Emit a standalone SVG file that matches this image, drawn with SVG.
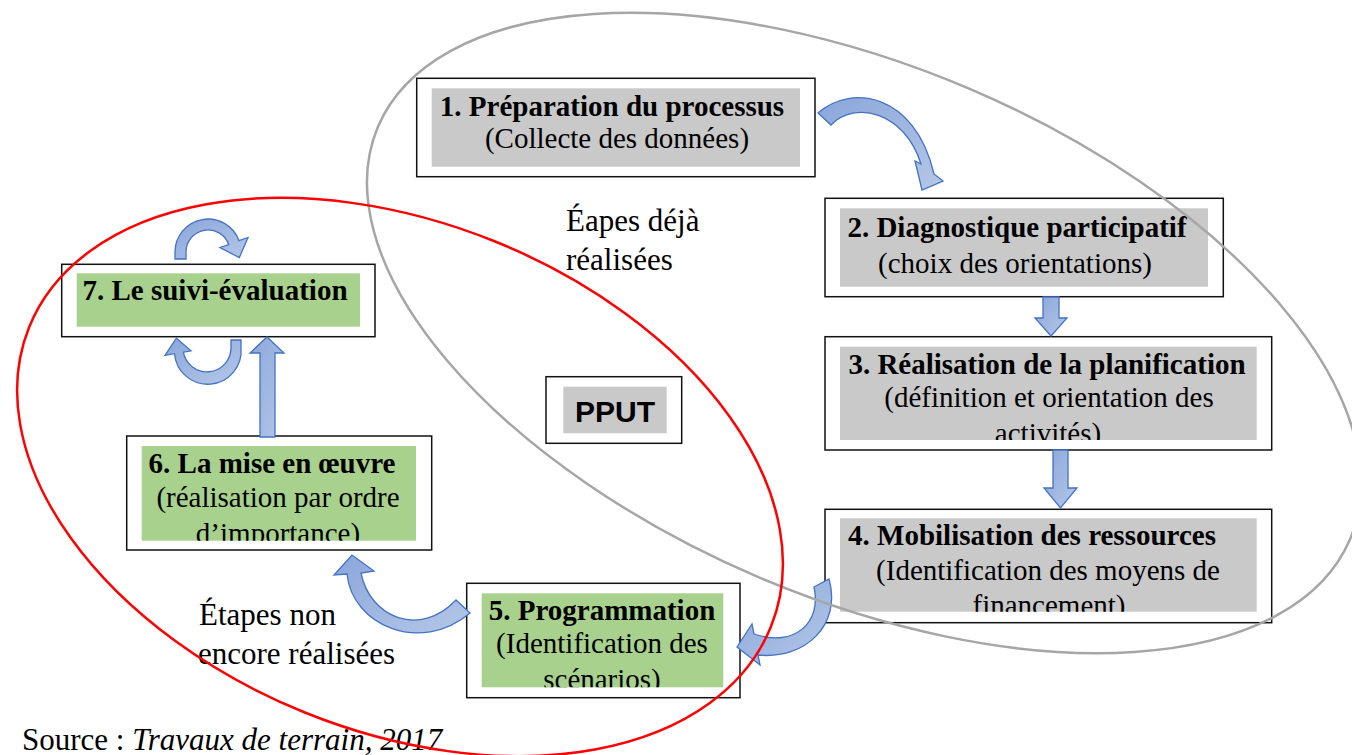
<svg xmlns="http://www.w3.org/2000/svg" width="1352" height="755" viewBox="0 0 1352 755">
<style>
.box{fill:#fff;stroke:#111;stroke-width:1.5}
.gray{fill:#C9C9C9}
.green{fill:#A9D18E}
.t{font-family:"Liberation Serif","Times New Roman",serif;font-size:29px;fill:#000;text-anchor:middle}
.b{font-weight:bold}
.lbl{font-family:"Liberation Serif","Times New Roman",serif;font-size:31px;fill:#000}
.arrow{fill:url(#ag);stroke:#4472C4;stroke-width:1.3;stroke-linejoin:miter}
.ell{fill:none;stroke-width:2.5}
</style>
<defs>
<linearGradient id="ag" x1="0" y1="0" x2="1" y2="1">
<stop offset="0" stop-color="#8AA6DA"/>
<stop offset="1" stop-color="#B4C7E7"/>
</linearGradient>
<clipPath id="c3"><rect x="840" y="346.7" width="416.7" height="93.3"/></clipPath>
<clipPath id="c4"><rect x="840" y="518.3" width="416.7" height="93.4"/></clipPath>
<clipPath id="c5"><rect x="481.7" y="593.3" width="241.6" height="94"/></clipPath>
<clipPath id="c6"><rect x="141.7" y="446" width="274.3" height="94.7"/></clipPath>
</defs>
<rect width="1352" height="755" fill="#fff"/>

<g id="node1">
<rect class="box" x="416.7" y="78.3" width="398.3" height="98.4"/>
<rect class="gray" x="431.7" y="88.3" width="368.3" height="78.4"/>
<text class="t b" x="612" y="116">1. Préparation du processus</text>
<text class="t" x="617" y="148">(Collecte des données)</text>
</g>
<g id="node2">
<rect class="box" x="825" y="198.3" width="398.3" height="98.4"/>
<rect class="gray" x="840" y="208.3" width="368" height="78.4"/>
<text class="t b" x="1017" y="237">2. Diagnostique participatif</text>
<text class="t" x="1015" y="273">(choix des orientations)</text>
</g>
<g id="node3">
<rect class="box" x="825" y="336.7" width="446.7" height="113.3"/>
<rect class="gray" x="840" y="346.7" width="416.7" height="93.3"/>
<g clip-path="url(#c3)">
<text class="t b" x="1047" y="374">3. Réalisation de la planification</text>
<text class="t" x="1049" y="407">(définition et orientation des</text>
<text class="t" x="1048" y="443">activités)</text>
</g>
</g>
<g id="node4">
<rect class="box" x="825" y="509.3" width="446.7" height="113.4"/>
<rect class="gray" x="840" y="518.3" width="416.7" height="93.4"/>
<g clip-path="url(#c4)">
<text class="t b" x="1032" y="545">4. Mobilisation des ressources</text>
<text class="t" x="1048" y="580">(Identification des moyens de</text>
<text class="t" x="1049" y="615">financement)</text>
</g>
</g>
<g id="node5">
<rect class="box" x="466.7" y="583.3" width="273.3" height="114.4"/>
<rect class="green" x="481.7" y="593.3" width="241.6" height="94"/>
<g clip-path="url(#c5)">
<text class="t b" x="602" y="620">5. Programmation</text>
<text class="t" x="602" y="653">(Identification des</text>
<text class="t" x="602" y="689">scénarios)</text>
</g>
</g>
<g id="node6">
<rect class="box" x="126.7" y="436" width="305" height="114"/>
<rect class="green" x="141.7" y="446" width="274.3" height="94.7"/>
<g clip-path="url(#c6)">
<text class="t b" x="272" y="473">6. La mise en œuvre</text>
<text class="t" x="278" y="507">(réalisation par ordre</text>
<text class="t" x="278" y="543">d’importance)</text>
</g>
</g>
<g id="node7">
<rect class="box" x="61.7" y="264.3" width="313.3" height="72.4"/>
<rect class="green" x="76.7" y="273.3" width="283.3" height="53.4"/>
<text class="t b" x="215" y="300">7. Le suivi-évaluation</text>
</g>
<g id="pput">
<rect class="box" x="546" y="376.7" width="135.7" height="66.6"/>
<rect class="gray" x="563.3" y="386.7" width="103.4" height="46.6"/>
<text x="615" y="422" style="font-family:'Liberation Sans',Arial,sans-serif;font-size:30px;font-weight:bold;text-anchor:middle;fill:#000">PPUT</text>
</g>

<g id="labels">
<text class="lbl" x="566" y="231">Éapes déjà</text>
<text class="lbl" x="566" y="270">réalisées</text>
<text class="lbl" x="199" y="625">Étapes non</text>
<text class="lbl" x="198" y="664">encore réalisées</text>
<text class="lbl" x="22" y="750">Source : <tspan font-style="italic">Travaux de terrain, 2017</tspan></text>
</g>

<g id="connectors">
<path class="arrow" d="M818,113 C850,84 915,92 934,174 L943,181 L922,190 L915,161 L921,164 C905,112 855,100 831,125 Z"/>
<polygon class="arrow" points="1043,297 1059,297 1059,318 1067,318 1051,336 1035,318 1043,318"/>
<polygon class="arrow" points="1053,450 1068,450 1068,488 1077,488 1060.5,508 1044,488 1053,488"/>
<path class="arrow" d="M829,579 C842,625 805,660 758,655 L760,665 L737,647 L752,624 L754,634 C795,648 822,622 814,587 Z"/>
<path class="arrow" d="M470,613 C420,655 352,625 347,574 L334,575 L352,555 L374,571 L361,573 C370,618 420,638 456,600 Z"/>
<polygon class="arrow" points="260,437 275,437 275,353 284,353 267,337 250,353 260,353"/>
<path class="arrow" d="M175,259 L175,252 A33,33 0 0 1 239,240.7 L248,237.5 L239.3,257.6 L220,247.5 L228.7,244.5 A22,22 0 0 0 186,252 L186,259 Z"/>
<path class="arrow" d="M241,340 L241,348 A33,33 0 0 1 174.5,353.7 L165,355.3 L176.4,338.2 L191,350.8 L183.4,352.2 A24,24 0 0 0 231,348 L231,340 Z"/>
</g>

<g id="groups">
<ellipse class="ell" stroke="#A6A6A6" cx="864" cy="333" rx="528" ry="266" transform="rotate(23 864 333)"/>
<ellipse class="ell" stroke="#FF0000" cx="400" cy="477" rx="400" ry="254" transform="rotate(22 400 477)"/>
</g>
</svg>
